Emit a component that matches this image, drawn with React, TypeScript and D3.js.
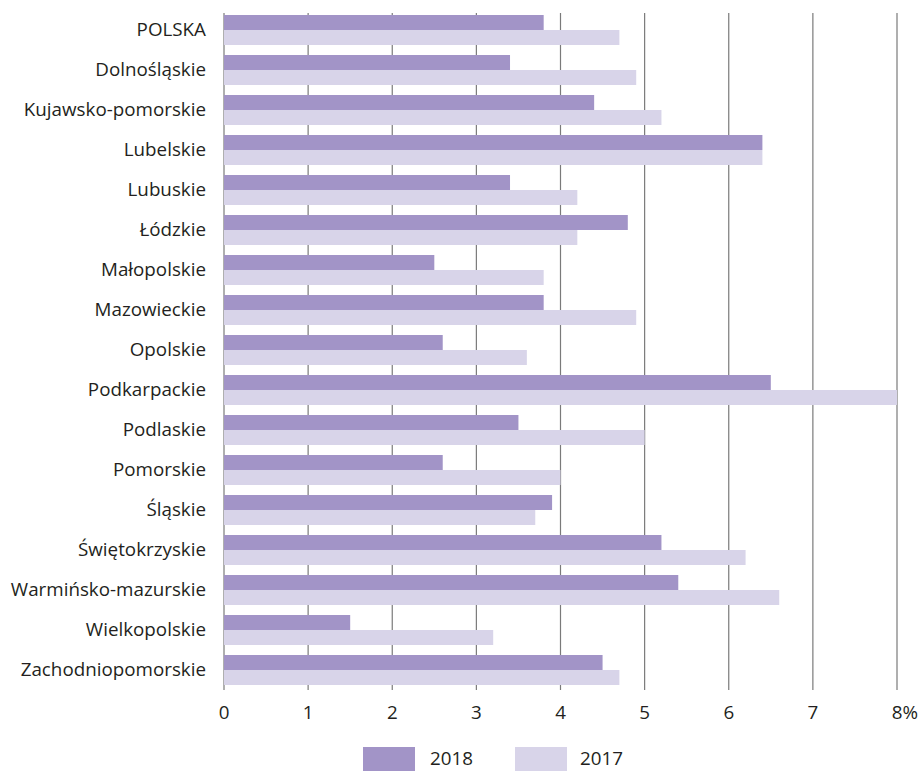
import React from "react";
import * as d3 from "d3";

const categories = [
  "POLSKA",
  "Dolnośląskie",
  "Kujawsko-pomorskie",
  "Lubelskie",
  "Lubuskie",
  "Łódzkie",
  "Małopolskie",
  "Mazowieckie",
  "Opolskie",
  "Podkarpackie",
  "Podlaskie",
  "Pomorskie",
  "Śląskie",
  "Świętokrzyskie",
  "Warmińsko-mazurskie",
  "Wielkopolskie",
  "Zachodniopomorskie",
];

const values2018 = [3.8, 3.4, 4.4, 6.4, 3.4, 4.8, 2.5, 3.8, 2.6, 6.5, 3.5, 2.6, 3.9, 5.2, 5.4, 1.5, 4.5];
const values2017 = [4.7, 4.9, 5.2, 6.4, 4.2, 4.2, 3.8, 4.9, 3.6, 8.0, 5.0, 4.0, 3.7, 6.2, 6.6, 3.2, 4.7];

const tickValues = [0, 1, 2, 3, 4, 5, 6, 7, 8];
const tickLabels = ["0", "1", "2", "3", "4", "5", "6", "7", "8%"];

const seriesNames = ["2018", "2017"];
const colors = ["#a294c7", "#d8d4e9"];

const W = 922;
const H = 771;
const FONT = "'Open Sans', sans-serif";
const FS = 18.8;

export default function App() {
  const x = d3.scaleLinear().domain([0, 8]).range([224, 897]);
  const y = d3
    .scaleBand<string>()
    .domain(categories)
    .range([10, 690])
    .paddingInner(0.25)
    .paddingOuter(0.125);
  const bw = y.bandwidth() / 2;
  const series = [values2018, values2017];

  return (
    <div style={{ position: "absolute", left: 0, top: 0 }}>
      <svg width={W} height={H} style={{ display: "block" }}>
        <rect width={W} height={H} fill="#ffffff" />
        {tickValues.map((t) => (
          <line
            key={"g" + t}
            x1={x(t)}
            x2={x(t)}
            y1={13}
            y2={690}
            stroke="#7a7a7a"
            strokeWidth={1.2}
          />
        ))}
        {categories.map((c, i) => (
          <g key={c}>
            {series.map((vals, s) => (
              <rect
                key={s}
                x={x(0)}
                y={(y(c) as number) + s * bw}
                width={x(vals[i]) - x(0)}
                height={bw}
                fill={colors[s]}
              />
            ))}
            <text
              x={206}
              y={(y(c) as number) + bw}
              dy="0.34em"
              textAnchor="end"
              fontFamily={FONT}
              fontSize={FS}
              fill="#231f20"
            >
              {c}
            </text>
          </g>
        ))}
        {tickValues.map((t, i) => (
          <text
            key={"t" + t}
            x={x(t)}
            y={719}
            textAnchor="middle"
            dx={i === tickValues.length - 1 ? 8 : 0}
            fontFamily={FONT}
            fontSize={FS}
            fill="#231f20"
          >
            {tickLabels[i]}
          </text>
        ))}
        {seriesNames.map((n, s) => (
          <g key={n}>
            <rect x={363 + s * 152} y={747} width={52} height={24} fill={colors[s]} />
            <text
              x={430 + s * 150}
              y={765}
              fontFamily={FONT}
              fontSize={FS}
              fill="#231f20"
            >
              {n}
            </text>
          </g>
        ))}
      </svg>
    </div>
  );
}
